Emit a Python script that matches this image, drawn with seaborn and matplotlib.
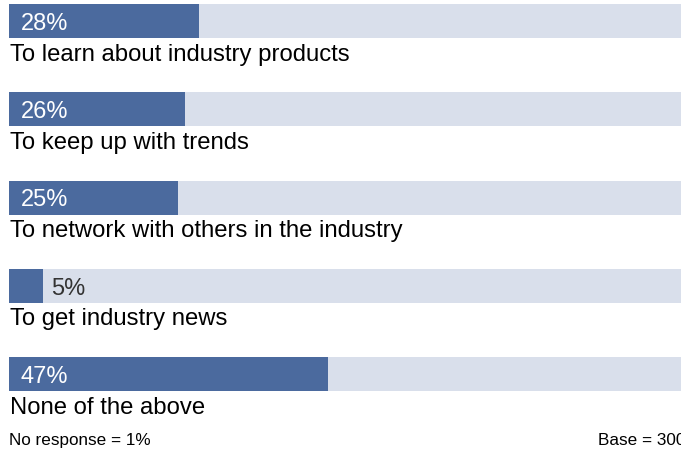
import matplotlib
matplotlib.use("Agg")
import matplotlib.pyplot as plt
import seaborn as sns
import pandas as pd

# Survey results: reasons for following the industry
categories = [
    "To learn about industry products",
    "To keep up with trends",
    "To network with others in the industry",
    "To get industry news",
    "None of the above",
]
percents = [28, 26, 25, 5, 47]
value_labels = ["28%", "26%", "25%", "5%", "47%"]
footnote_left = "No response = 1%"
footnote_right = "Base = 300"

dark = "#4B6A9E"
light = "#D9DFEB"

sns.set_theme(style="white")
plt.rcParams["font.family"] = ["Liberation Sans", "DejaVu Sans"]

df = pd.DataFrame({"category": categories, "pct": percents, "full": [100] * len(categories)})

W, H = 681, 451
fig = plt.figure(figsize=(W / 100, H / 100), dpi=100)
ax = fig.add_axes([0, 0, 1, 1])

# pixel geometry of the layout
px_per_pct = 6.78
left_px = 9
row_px = 88.25
first_center_px = 21
bar_px = 34

bw = bar_px / row_px
sns.barplot(data=df, x="full", y="category", order=categories, color=light,
            width=bw, saturation=1, ax=ax, orient="h", linewidth=0)
sns.barplot(data=df, x="pct", y="category", order=categories, color=dark,
            width=bw, saturation=1, ax=ax, orient="h", linewidth=0)

ax.set_xlim(-left_px / px_per_pct, (W - left_px) / px_per_pct)
ax.set_ylim((H - first_center_px) / row_px, -first_center_px / row_px)

inside_pad = 12 / px_per_pct
outside_pad = 8 / px_per_pct
value_drop = 9 / row_px      # baseline of value text below bar centre
label_drop = 39.5 / row_px   # baseline of category text below bar centre
for i, (cat, val, lab) in enumerate(zip(categories, percents, value_labels)):
    if val >= 10:
        ax.text(inside_pad, i + value_drop, lab, color="white", fontsize=17,
                va="baseline", ha="left")
    else:
        ax.text(val + outside_pad, i + value_drop, lab, color="#333333",
                fontsize=17, va="baseline", ha="left")
    ax.text(0.15, i + label_drop, cat, color="black", fontsize=17.2,
            va="baseline", ha="left")

fig.text(left_px / W, 1 - 445 / H, footnote_left, fontsize=12.3,
         va="baseline", ha="left", color="black")
fig.text(598 / W, 1 - 445 / H, footnote_right, fontsize=12.3,
         va="baseline", ha="left", color="black")

ax.set_xlabel("")
ax.set_ylabel("")
ax.set_xticks([])
ax.set_yticks([])
for s in ax.spines.values():
    s.set_visible(False)

fig.savefig("out.png", dpi=100)
